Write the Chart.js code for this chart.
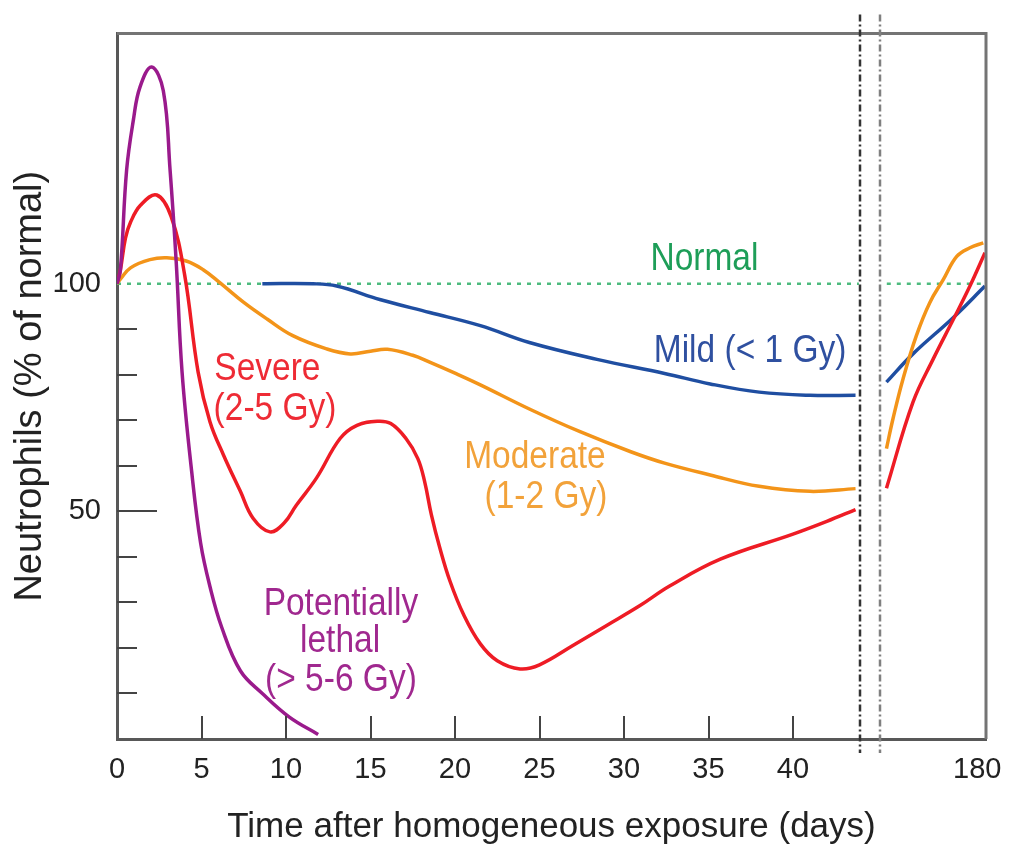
<!DOCTYPE html>
<html>
<head>
<meta charset="utf-8">
<script src="https://cdn.jsdelivr.net/npm/chart.js@4.4.1/dist/chart.umd.min.js"></script>
<style>
  html, body { margin: 0; padding: 0; background: #fff; }
  #wrap { width: 1011px; height: 848px; }
</style>
</head>
<body>
<div id="wrap"><canvas id="neutroChart" width="1011" height="848"></canvas></div>
<script>
// days after exposure -> neutrophils (% of normal)
const lethalDays = [0, 0.2, 0.57, 0.97, 1.36, 2.05, 2.74, 3.14, 3.5, 3.85, 4.42, 4.95, 5.5, 6.2, 7.3, 8.6, 10.2, 11.9];
const lethalValues = [100, 103, 125, 136, 143.2, 147.6, 142.4, 125, 105, 80.6, 58.7, 43, 33.5, 24.5, 15, 10, 4.8, 1];

const severeDays = [0, 0.2, 0.5, 0.8, 1.4, 2.35, 3.2, 4.0, 4.8, 5.5, 6.3, 7.3, 8.05, 9.05, 9.9, 10.6, 11.8, 13.2, 14.2, 15.4,
  16.2, 17.1, 17.8, 18.2, 18.6, 19.1, 19.7, 20.5, 21.5, 22.5, 23.85, 25, 27, 29, 30.9, 32.7, 35.7, 40, 42, 43.7];
const severeValues = [100, 103, 110, 113.5, 117.3, 119.5, 114.8, 102, 80.6, 69.7, 62.4, 54.4, 48.5, 45.5, 47.5, 51.3, 57.3, 66, 68.9, 69.8,
  69.3, 66, 61.6, 56.6, 49.3, 42, 34.7, 27.4, 20.9, 17.2, 15.4, 16.3, 20.6, 25, 29.2, 33.6, 39.5, 45, 47.8, 50.4];

const moderateDays = [0, 0.2, 0.8, 1.95, 2.95, 4.1, 5.1, 6.1, 7.5, 8.9, 10.4, 12.4, 13.8, 15.0, 16.0, 17.5, 18.5, 20.1, 21.5, 24.4,
  27.4, 30.4, 32.4, 35.1, 38, 41, 43.7];
const moderateValues = [100, 101, 103.5, 105.3, 105.7, 105, 103.1, 100.2, 95.9, 92.2, 88.6, 85.7, 84.6, 85.2, 85.6, 84.3, 82.8, 80.2, 77.8, 72.5,
  67.5, 63.1, 60.6, 58, 55.5, 54.4, 55];

const mildDays = [8.6, 11.6, 13.0, 15.6, 18.5, 21.5, 24.4, 28.4, 32.4, 35.1, 38, 41, 43.7];
const mildValues = [100, 100, 99.5, 96.5, 93.7, 90.8, 87.1, 83.4, 80.3, 78, 76.2, 75.5, 75.5];

const normalDays = [0, 43.9];
const normalValues = [100, 100];

// right of the axis break (up to day 180): positions on the broken x axis
const severeLateX = [45.53, 47.1, 48.3, 49.49, 50.47, 51.36];
const severeLateValues = [55.1, 74, 83.5, 92.2, 99.5, 106.8];
const moderateLateX = [45.53, 45.92, 46.51, 47.3, 48.1, 48.89, 49.69, 50.47, 51.26];
const moderateLateValues = [63.8, 70.4, 79.1, 88.6, 95.9, 100.9, 106, 107.9, 109];
const mildLateX = [45.53, 47.1, 49.49, 51.36];
const mildLateValues = [78.4, 84.6, 92.6, 99.5];
const normalLateX = [45.55, 51.42];
const normalLateValues = [100, 100];

// axis ticks
const xTickPos = [0, 5, 10, 15, 20, 25, 30, 35, 40, 50.9];
const xTickLabels = ['0', '5', '10', '15', '20', '25', '30', '35', '40', '180'];
const xTickMarks = [5, 10, 15, 20, 25, 30, 35, 40];
const yTickPos = [0, 50, 100];
const yMinorMarks = [10, 20, 30, 40, 60, 70, 80, 90];
const yMajorMarks = [50];
const breakAt = [43.96, 45.15];

const GAP = 44.5;

function pts(xs, ys) {
  return xs.map((x, i) => ({ x: x, y: ys[i] }));
}
function joined(xs, ys, lateXs, lateYs) {
  return pts(xs, ys).concat([{ x: GAP, y: null }], pts(lateXs, lateYs));
}

const FONT = "'Liberation Sans', Arial, sans-serif";

// curve labels: text, x, y (axis units), colour
const notes = [
  ['Normal', 34.76, 105.5, '#1e9e58'],
  ['Mild (< 1 Gy)', 37.46, 85.2, '#2f50a0'],
  ['Severe', 8.9, 81.2, '#ee2b35'],
  ['(2-5 Gy)', 9.35, 72.5, '#ee2b35'],
  ['Moderate', 24.73, 61.9, '#f2a23a'],
  ['(1-2 Gy)', 25.38, 53.1, '#f2a23a'],
  ['Potentially', 13.25, 29.7, '#a0288f'],
  ['lethal', 13.2, 21.6, '#a0288f'],
  ['(> 5-6 Gy)', 13.25, 12.9, '#a0288f']
];

const figureExtras = {
  id: 'figureExtras',
  afterDraw(chart) {
    const { ctx, chartArea: a, scales: { x, y } } = chart;
    ctx.save();

    // top and right frame
    ctx.strokeStyle = '#747474';
    ctx.lineWidth = 3;
    ctx.beginPath();
    ctx.moveTo(a.left, a.top);
    ctx.lineTo(a.right, a.top);
    ctx.lineTo(a.right, a.bottom);
    ctx.stroke();

    // tick marks pointing inward
    ctx.strokeStyle = '#444';
    ctx.lineWidth = 2;
    ctx.beginPath();
    xTickMarks.forEach(v => {
      const px = Math.round(x.getPixelForValue(v));
      ctx.moveTo(px, a.bottom);
      ctx.lineTo(px, a.bottom - 23);
    });
    yMinorMarks.forEach(v => {
      const py = Math.round(y.getPixelForValue(v));
      ctx.moveTo(a.left, py);
      ctx.lineTo(a.left + 20, py);
    });
    yMajorMarks.forEach(v => {
      const py = Math.round(y.getPixelForValue(v));
      ctx.moveTo(a.left, py);
      ctx.lineTo(a.left + 40, py);
    });
    ctx.stroke();

    // axis break
    ctx.lineWidth = 2.5;
    ctx.setLineDash([7, 3, 2, 3]);
    ['#333', '#808080'].forEach((c, i) => {
      const px = Math.round(x.getPixelForValue(breakAt[i]));
      ctx.strokeStyle = c;
      ctx.beginPath();
      ctx.moveTo(px, a.top - 19);
      ctx.lineTo(px, a.bottom + 14);
      ctx.stroke();
    });
    ctx.setLineDash([]);

    // curve labels (the original lettering is tall and narrow)
    ctx.font = '33.5px ' + FONT;
    ctx.textAlign = 'center';
    ctx.textBaseline = 'middle';
    notes.forEach(n => {
      ctx.save();
      ctx.translate(x.getPixelForValue(n[1]), y.getPixelForValue(n[2]));
      ctx.scale(1, 1.18);
      ctx.fillStyle = n[3];
      ctx.fillText(n[0], 0, 0);
      ctx.restore();
    });

    ctx.restore();
  }
};

new Chart(document.getElementById('neutroChart'), {
  type: 'line',
  data: {
    datasets: [
      {
        label: 'Potentially lethal',
        data: pts(lethalDays, lethalValues),
        borderColor: '#9a1a8c',
        borderWidth: 3.5
      },
      {
        label: 'Severe',
        data: joined(severeDays, severeValues, severeLateX, severeLateValues),
        borderColor: '#ee1c25',
        borderWidth: 3.5
      },
      {
        label: 'Moderate',
        data: joined(moderateDays, moderateValues, moderateLateX, moderateLateValues),
        borderColor: '#f39419',
        borderWidth: 3.5
      },
      {
        label: 'Mild',
        data: joined(mildDays, mildValues, mildLateX, mildLateValues),
        borderColor: '#1f4ea1',
        borderWidth: 3.5
      },
      {
        label: 'Normal',
        data: joined(normalDays, normalValues, normalLateX, normalLateValues),
        borderColor: '#4dbb7e',
        borderWidth: 2.5,
        borderDash: [4, 6],
        tension: 0
      }
    ]
  },
  options: {
    responsive: false,
    animation: false,
    devicePixelRatio: 1,
    layout: { padding: { top: 29, right: 25, left: 0, bottom: 0 } },
    elements: {
      point: { radius: 0 },
      line: { tension: 0.4, fill: false }
    },
    plugins: {
      legend: { display: false },
      tooltip: { enabled: false }
    },
    scales: {
      x: {
        type: 'linear',
        min: 0,
        max: 51.42,
        afterFit: s => { s.height = 109; s.paddingLeft = 0; s.paddingRight = 0; },
        afterBuildTicks: s => { s.ticks = xTickPos.map(v => ({ value: v })); },
        grid: { display: true, drawOnChartArea: false, drawTicks: false },
        border: { display: true, color: '#585858', width: 3 },
        ticks: {
          autoSkip: false,
          maxRotation: 0,
          padding: 14,
          color: '#222',
          font: { family: FONT, size: 29 },
          callback: (v, i) => xTickLabels[i]
        },
        title: {
          display: true,
          text: 'Time after homogeneous exposure (days)',
          color: '#222',
          font: { family: FONT, size: 35 },
          padding: { top: 0, bottom: 0 }
        }
      },
      y: {
        type: 'linear',
        min: 0,
        max: 155,
        afterFit: s => { s.width = 117; },
        afterBuildTicks: s => { s.ticks = yTickPos.map(v => ({ value: v })); },
        grid: { display: true, drawOnChartArea: false, drawTicks: false },
        border: { display: true, color: '#585858', width: 3 },
        ticks: {
          padding: 16,
          color: '#222',
          font: { family: FONT, size: 29 },
          callback: v => (v === 0 ? '' : String(v))
        },
        title: {
          display: true,
          text: 'Neutrophils (% of normal)',
          color: '#222',
          font: { family: FONT, size: 38 },
          padding: { top: 8, bottom: 0 }
        }
      }
    }
  },
  plugins: [figureExtras]
});
</script>
</body>
</html>
